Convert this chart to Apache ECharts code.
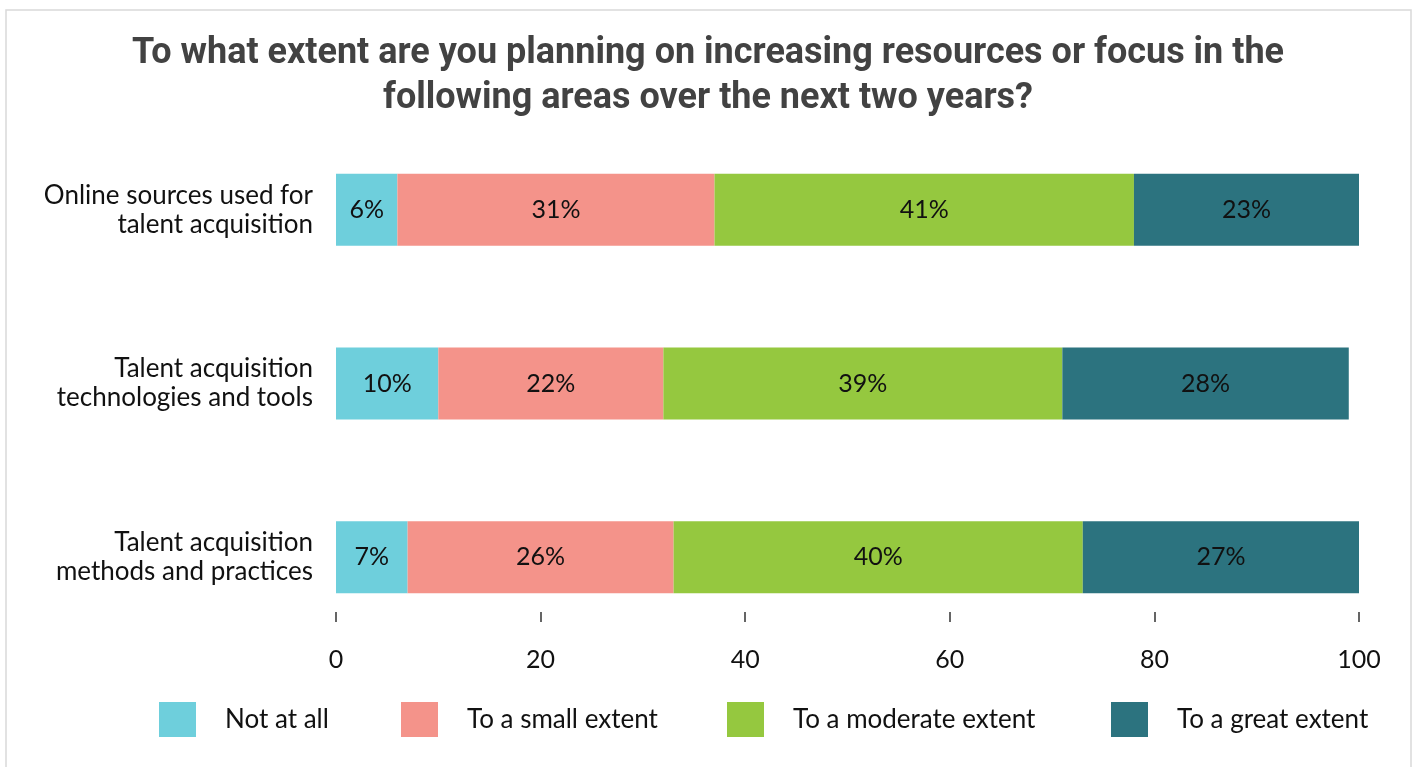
<!DOCTYPE html>
<html>
<head>
<meta charset="utf-8">
<script src="https://cdn.jsdelivr.net/npm/echarts@6/dist/echarts.min.js"></script>
<style>
  html, body { margin: 0; padding: 0; background: #fff; }
  #chart { width: 1416px; height: 767px; }
</style>
</head>
<body>
<div id="chart"></div>
<script>
// Survey areas (top to bottom)
const categories = [
  'Online sources used for\ntalent acquisition',
  'Talent acquisition\ntechnologies and tools',
  'Talent acquisition\nmethods and practices'
];
// Response shares, percent
const notAtAll = [6, 10, 7];
const smallExtent = [31, 22, 26];
const moderateExtent = [41, 39, 40];
const greatExtent = [23, 28, 27];

const seriesNames = ['Not at all', 'To a small extent', 'To a moderate extent', 'To a great extent'];
const seriesData = [notAtAll, smallExtent, moderateExtent, greatExtent];
const colors = ['#6ECFDC', '#F4938A', '#95C83F', '#2C737F'];

const bodyFont = 'Lato, "Open Sans", sans-serif';
const legendLefts = [159, 401, 727, 1111];

const chart = echarts.init(document.getElementById('chart'), null, { renderer: 'canvas' });

chart.setOption({
  backgroundColor: '#ffffff',
  animation: false,
  title: {
    text: 'To what extent are you planning on increasing resources or focus in the\nfollowing areas over the next two years?',
    left: 'center',
    top: 31,
    padding: 0,
    textStyle: {
      fontFamily: 'Roboto, sans-serif',
      fontWeight: 'bold',
      fontSize: 36,
      lineHeight: 45,
      color: '#424242'
    }
  },
  graphic: [{
    type: 'rect',
    shape: { x: 6, y: 10, width: 1405, height: 780 },
    style: { fill: 'none', stroke: '#d9d9d9', lineWidth: 1.5 },
    silent: true
  }],
  legend: seriesNames.map((name, i) => ({
    data: [name],
    left: legendLefts[i],
    top: 702,
    padding: 0,
    icon: 'rect',
    itemWidth: 37,
    itemHeight: 35,
    selectedMode: false,
    textStyle: {
      fontFamily: bodyFont,
      fontSize: 26,
      color: '#111',
      padding: [0, 0, 0, 24]
    }
  })),
  grid: {
    left: 336,
    right: 57,
    top: 123,
    bottom: 123,
    containLabel: false
  },
  xAxis: {
    type: 'value',
    min: 0,
    max: 100,
    interval: 20,
    offset: -32,
    splitLine: { show: false },
    axisLine: { show: false },
    axisTick: { show: true, length: 10, lineStyle: { color: '#333', width: 1.5 } },
    axisLabel: {
      margin: 35,
      fontFamily: bodyFont,
      fontSize: 25,
      color: '#111'
    }
  },
  yAxis: {
    type: 'category',
    data: categories,
    inverse: true,
    axisLine: { show: false },
    axisTick: { show: false },
    axisLabel: {
      margin: 23,
      fontFamily: bodyFont,
      fontSize: 26,
      lineHeight: 29,
      padding: [8, 0, 0, 0],
      color: '#111',
      align: 'right'
    }
  },
  series: seriesNames.map((name, i) => ({
    name: name,
    type: 'bar',
    stack: 'total',
    barWidth: 72,
    itemStyle: { color: colors[i] },
    label: {
      show: true,
      position: 'inside',
      formatter: '{c}%',
      fontFamily: bodyFont,
      fontSize: 25,
      color: '#111'
    },
    data: seriesData[i]
  }))
});
</script>
</body>
</html>
